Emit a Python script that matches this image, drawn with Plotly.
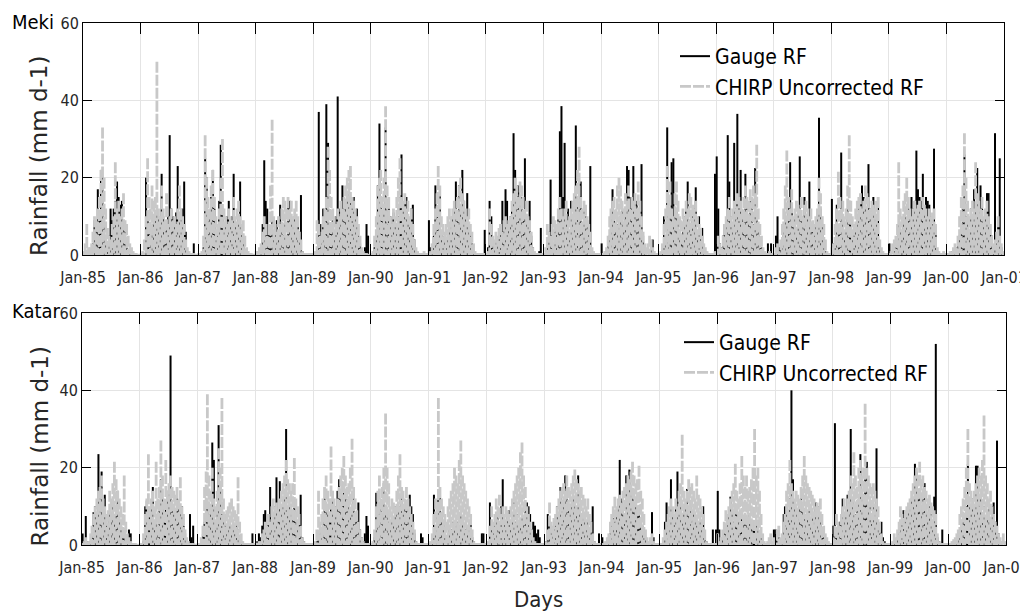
import plotly.graph_objects as go

# Dekadal (10-day) rainfall, mm/day, one row per year 1985-2000
YEARS = list(range(1985, 2001))
DEKAD_DAYS = [5, 15, 25]
TICK_YEARS = list(range(1985, 2002))
TICK_LABELS = ["Jan-%02d" % (y % 100) for y in TICK_YEARS]

meki_gauge = [
    [0,0,1,0,1,0,3,9,6,17,11,22,20,8,3,2,5,12,9,12,14,19,15,13,14,8,6,2,1,1,0,0,0,0,0,0],
    [0,0,0,20,10,8,5,6,8,10,12,10,8,21,10,5,8,10,31,12,10,8,11,23,10,9,12,19,6,1,0,0,0,3,0,0],
    [0,0,0,2,25,20,8,10,15,22,12,6,5,14,28.5,12,6,8,10,14,8,10,21,8,6,10,19,6,4,1,0,0,0,0,0,0],
    [0,0,0,1,8,24.5,14,12,6,5,9,5,6,9,4,13,6,5,8,4,15,14,8,6,10,5,8,6,15.5,1,0,0,0,0,0,0],
    [0,0,1,37,8,3,12,5,39,29,8,6,9,5,10,41,12,8,18,10,12,16,15,14,12,15,10,12,5,3,1,0,2,8,5,0],
    [0,0,2,6,18,34,15,10,12,33,8,12,10,6,11,8,6,10,15,26,12,14,15,10,8,12,13,4,1,0,0,0,0,0,0,0],
    [9,2,1,5,18,10,8,16,6,4,5,3,6,8,5,10,12,19,10,18,12,22,14,10,16,8,5,3,1,0,0,0,0,0,0,6.5],
    [0,2,14,10,3,2,4,3,6,8,14,6,17,14,8,10,12,31.5,22,12,18,12,15,10,25,10,8,14,5,2,0,0,0,1,7,0],
    [0,0,2,6,19.5,4,3,6,8,10,32,38.5,15,29,10,12,6,14,10,8,33.5,14,12,19,8,12,10,9,6,23,1,0,0,0,0,0],
    [3,0,0,1,3,5,8,17,10,6,8,5,10,12,8,10,23,22,15,12,23,10,14,12,10,23.5,5,1,0,0,1,2,4,0,0,0],
    [0,0,1,10,4,33,8,12,24,25,10,12,8,6,5,8,10,12,19,8,6,10,12,17.5,6,10,5,7,2,1,0,0,0,0,0,21],
    [25.5,12,3,2,5,8,8,31,19,10,8,29,12,36.5,15,22,10,8,21,12,10,14,12,8,22.5,10,6,4,2,1,0,0,3,0,3,0],
    [0,5,10,2,3,4,6,10,8,14,24,12,8,10,6,12,25.5,10,8,15,6,10,19,8,6,5,8,10,35.5,12,8,3,1,0,0,0],
    [14.5,3,2,13,8,6,26.5,10,6,8,12,10,8,6,5,8,10,12,14,18,15,12,10,23.5,12,10,15,8,10,15,2,1,0,0,0,0],
    [3,0,0,1,2,4,8,6,5,8,10,8,12,10,15,12,14,27,17,15,14,21,12,15,14,13,10,8,27.5,6,1,0,0,0,0,0],
    [0,0,0,1,0,1,2,3,5,8,12,26,10,8,6,12,10,17,12,22.5,10,18,12,8,10,16,16,8,5,2,31.5,3,8,25,2,0],
]

meki_chirp = [
    [1,3,8,2,2,3,6,10,9,12,15,22,33,20,12,7,5,4,8,10,24,12,14,10,12,16,9,8,5,3,2,1,0.5,0.5,0.3,0.3],
    [0.5,1,4,10,25,15,12,18,14,15,50,12,10,18,12,9,16,8,10,12,9,10,8,12,18,12,10,8,4,2,1,0.5,0.5,0.5,0.3,0.3],
    [0.5,0.5,1,5,31,20,15,12,18,22,15,10,8,12,20,30,12,10,8,12,10,9,15,10,12,14,10,8,9,5,2,1,0.5,0.5,0.3,0.3],
    [1,1,2,3,6,10,8,5,8,18,35,10,8,6,10,8,12,15,14,12,15,12,14,10,12,14,10,6,4,1,0.5,0.5,0.5,0.5,0.5,0.5],
    [0.5,1,9,8,5,6,10,12,15,28,22,15,12,10,8,12,10,14,12,15,18,20,22,23,15,14,12,10,8,5,2,1,0.5,0.5,0.3,0.3],
    [0.5,1,5,10,18,20,22,15,20,38.5,18,15,10,8,12,10,15,20,25,15,14,16,12,14,10,12,8,4,2,1,0.5,0.5,0.5,1,0.5,0.5],
    [0.5,1,3,8,12,16,23,18,10,8,6,8,10,12,10,12,14,12,15,18,20,16,14,12,10,12,8,6,3,1,0.5,0.5,0.5,0.5,0.5,0.5],
    [0.5,1,12,8,5,4,6,5,7,8,6,9,10,8,9,10,14,16,20,18,15,19,18,15,12,14,10,9,6,2,1,0.5,0.5,0.5,0.5,0.5],
    [0.5,2,8,6,5,8,10,9,8,12,15,12,10,12,14,9,10,12,14,16,18,22,28,15,12,14,13,10,8,6,2,1,0.5,0.5,0.5,0.5],
    [0.5,0.5,1,2,5,10,12,14,15,12,18,20,18,14,12,16,14,18,12,15,14,16,12,19,14,10,6,3,2,3,5,4,2,1,0.5,0.5],
    [0.5,1,3,8,12,23,15,19,12,10,16,19,14,10,9,12,10,14,12,16,15,13,12,14,10,8,7,5,3,2,1,0.5,0.5,0.5,0.5,1],
    [1,5,3,2,5,8,10,12,15,10,12,14,12,16,15,14,12,15,18,15,14,17,15,18,16,28.5,12,8,5,2,1,0.5,0.5,1,0.5,0.5],
    [0.5,2,3,1,4,8,12,18,27,15,12,17,10,12,14,13,12,15,10,13,14,12,10,12,9,8,10,12,20,16,10,8,4,1,0.5,0.5],
    [2,3,8,12,21.5,15,12,14,10,12,18,31,14,10,8,12,14,15,16,12,14,18,16,15,12,14,13,12,14,15,4,2,1,0.5,0.5,0.5],
    [0.5,1,3,4,5,8,24,12,10,14,16,20,15,12,10,12,14,12,13,14,12,15,13,12,10,12,10,11,12,8,2,1,0.5,0.5,1,0.5],
    [0.5,0.5,1,1,2,3,2,5,10,15,18,31.5,20,14,10,12,14,12,24,16,14,12,15,10,12,14,10,8,5,3,4,6,10,5,3,1],
]

katar_gauge = [
    [3,1,7.5,1,0,1,3,8.5,10,6,23.5,8,19,6,13,5,3,8,6,10,8,10,14,6,5,3,4,2,1,4,3,0,0,0,0,0],
    [0,0,1,10,11.5,6,8,10,15,6,8,5,10,17,12,8,10,14,12,49,10,8,9,12,10,8,10,5,3,1,0,8,2,5,0,0],
    [0,0,1,3,6,8,10,5,8,26.5,22,6,8,31,15,8,6,5,4,6,5,4,6,3,5,4,2,1,0,0,0,0,0,0,3,0],
    [0,1,3,2,5,8,9,4,6,15,5,8,10,17.5,6,16.5,8,10,12,30,8,10,6,8,10,6,5,8,13,2,1,0,0,0,0,0],
    [0,0,1,3,2,4,8,12,10,8,6,10,12,8,10,14,17,12,10,14,12,10,12,8,10,12,8,6,11,4,2,1,3,7.5,5,0],
    [0,0,2,13.5,6,8,10,6,16,10,8,6,5,8,6,10,8,9,10,12,8,10,11,8,13,10,8,3,1,0,0,3,2,0,0,0],
    [0,0,1,13,5,8,12,13,8,6,3,2,3,5,4,6,5,4,6,5,8,6,5,4,5,3,6,2,1,0,0,0,0,3,3,0],
    [0,0,11,4,3,5,6,8,5,10,17,6,5,8,9,6,8,11,6,8,6,5,8,6,10,11,10,8,4,6,5,3,4,2,0,0],
    [0,1,8,5,3,4,6,5,10,8,15,8,10,18,12,10,8,10,12,10,8,18,10,8,6,8,5,6,4,6,10,1,0,0,3,0],
    [2,0,0,1,2,3,5,7,6,8,10,22,12,10,8,18,10,19.5,12,14,10,12,8,10,6,5,3,2,1,0,1,8.5,2,0,0,0],
    [0,0,1,6,11,4,6,17,8,6,10,19,8,10,6,8,10,14.5,8,10,6,8,6,5,4,6,5,10,2,1,0,0,0,4,0,4],
    [14,4,1,2,3,5,6,8,12.5,10,6,8,10,6,5,8,6,8,6,7,8,6,5,6,5,4,3,2,1,0,0,0,0,0,0,4],
    [4,1,2,1,2,8,10,10,8,12,40,17,10,8,6,10,12,10,8,6,8,10,6,8,5,11,6,10,6,4,2,1,0,0,0,0],
    [5,31.5,3,4,6,8,12,6,8,13,10,30,12,10,8,10,12,23.5,10,12,18,21.5,10,12,8,10,6,25,4,3,6,2,1,0,0,0],
    [0,0,1,0,2,3,5,6,9,6,8,10,8,12,10,21,19,12,14,10,12,16,10,8,10,8,6,12.5,52,2,1,0,4,0,0,0],
    [0,0,0,1,0,1,2,3,4,6,8,10,21,10,8,12,10,20.5,20.5,10,12,8,10,6,8,10,5,10,11,6,27,3,1,0,0,0],
]

katar_chirp = [
    [0.5,1,2,1,1,3,5,8,10,12,14,15,18,12,10,8,9,14,12,16,21.5,17,14,12,10,8,18,6,3,2,1,0.5,0.5,0.5,0.3,0.3],
    [0.5,0.5,3,8,12,23.5,10,12,14,10,21.5,12,15,27,18,12,22,14,16,18,15,14,13,15,12,17.5,10,8,4,2,1,0.5,0.5,0.5,0.3,0.3],
    [0.5,0.5,2,5,15,19,39,18,14,20,12,10,14,25,20,38,12,8,9,10,11,12,10,9,8,17.5,6,3,1,0.5,0.5,0.5,0.5,0.5,0.5,0.5],
    [0.5,0.5,1,1,3,4,6,5,8,6,10,12,10,11,9,12,14,16,18,22,17,16,14,16,22.5,12,10,8,5,2,1,0.5,0.5,0.5,0.5,0.5],
    [0.5,1,4,14,6,8,12,15,18,14,12,25.5,14,12,10,12,15,18,20,23,18,15,16,20,27.5,15,12,9,6,4,2,1,0.5,0.5,0.5,0.5],
    [0.5,1,4,10,14,18,12,15,20,34,20,16,10,12,11,10,14,18,23.5,15,14,12,15,12,10,8,6,4,1,0.5,0.5,0.5,0.5,0.5,0.5,0.5],
    [0.5,1,3,8,12,10,38,15,12,10,8,6,10,12,14,16,20,18,16,22,27,18,16,14,12,10,8,4,1,0.5,0.5,0.5,0.5,0.5,0.5,0.5],
    [0.5,1,5,10,6,8,12,10,13,8,10,8,10,9,8,10,12,14,16,18,20,24,26.5,18,15,10,8,6,4,2,1,0.5,0.5,0.5,0.5,0.5],
    [0.5,1,4,11,6,5,7,8,10,12,14,15,16,14,18,15,14,16,18,19.5,17,16,14,15,13,12,10,12,8,6,3,1,0.5,0.5,0.5,0.5],
    [0.5,0.5,1,2,3,6,8,10,12.5,10,12,13,11,14,15,16,18,17,19,21.5,18,16,17,20.5,14,12,8,4,2,1,2,3,1,0.5,0.5,0.5],
    [0.5,0.5,2,4,6,8,10,12,10,8,12,10,14,16,28.5,14,12,14,17,15,16,14,12,18,13,12,10,8,4,1,0.5,0.5,0.5,0.5,0.5,0.5],
    [3,1,2,4,6,9,8,10,12,14,16,21,14,12,16,23,18,15,18,14,15,17,20,30,18,20,14,8,3,1,0.5,1,2,3,1,2],
    [0.5,4,5,2,3,6,8,14,16,22,16,14,12,14,13,12,15,18,23,18,16,15,14,13,12,10,11,10,12,8,5,3,2,1,0.5,0.5],
    [2,5,8,6,5,8,10,12,10,12,14,18,16,24,18,15,20,22,18,20,36.5,20,18,16,15,16,14,12,10,6,3,1,0.5,0.5,0.5,0.5],
    [0.5,1,3,2,4,6,10,8,7,9,10,11,12,14,16,18,20,18,21.5,17,18,15,14,12,13,11,10,9,8,3,1,0.5,0.5,0.5,0.5,0.5],
    [0.5,0.5,1,1.5,2,3,4,8,10,12,15,20,30,16,14,12,14,16,18,20,18,22,33.5,18,16,12,14,10,8,6,5,3,2,1,3,1],
]

dates = ["%d-%02d-%02d" % (y, m, d) for y in YEARS for m in range(1, 13) for d in DEKAD_DAYS]


def stems(rows, from_top=False):
    # one vertical stroke per dekad, like the dense daily spikes of the original
    xs, ys = [], []
    vals = [v for row in rows for v in row]
    for x, v in zip(dates, vals):
        xs += [x, x, None]
        ys += ([v, 0, None] if from_top else [0, v, None])
    return xs, ys


NARROW = "Liberation Sans Narrow, Arial Narrow, DejaVu Sans Condensed, sans-serif"
GRAY = "#c8c8c8"

fig = go.Figure()
panels = [("x", "y", "legend", meki_gauge, meki_chirp),
          ("x2", "y2", "legend2", katar_gauge, katar_chirp)]
for xa, ya, lg, gauge, chirp in panels:
    gx, gy = stems(gauge)
    fig.add_trace(go.Scatter(x=gx, y=gy, xaxis=xa, yaxis=ya, mode="lines", name="Gauge RF",
                             legend=lg, line=dict(color="black", width=2)))
    cx, cy = stems(chirp, from_top=True)
    fig.add_trace(go.Scatter(x=cx, y=cy, xaxis=xa, yaxis=ya, mode="lines", name="CHIRP Uncorrected RF",
                             legend=lg, line=dict(color=GRAY, width=2.8, dash="11px,2px")))

W, H = 1020, 616
xcommon = dict(range=["1985-01-01", "2001-01-01"], tickvals=["%d-01-01" % y for y in TICK_YEARS],
               ticktext=TICK_LABELS, ticks="inside", ticklen=11, tickcolor="black",
               showline=True, linecolor="black", linewidth=1, mirror="ticks",
               showgrid=True, gridcolor="#e4e4e4", zeroline=False, ticklabeloverflow="allow",
               tickfont=dict(family=NARROW, size=16, color="#262626"), ticklabelstandoff=8)
ycommon = dict(range=[0, 60], tickvals=[0, 20, 40, 60], ticks="inside", ticklen=9, tickcolor="black",
               showline=True, linecolor="black", linewidth=1, mirror="ticks",
               showgrid=True, gridcolor="#e4e4e4", zeroline=False,
               tickfont=dict(family=NARROW, size=16, color="#262626"))

fig.update_layout(
    width=W, height=H, margin=dict(l=0, r=0, t=0, b=0, autoexpand=False),
    paper_bgcolor="white", plot_bgcolor="white",
    xaxis=dict(domain=[83 / W, 1004 / W], anchor="y", **xcommon),
    yaxis=dict(domain=[1 - 255 / H, 1 - 23 / H], anchor="x", **ycommon),
    xaxis2=dict(domain=[82 / W, 1006 / W], anchor="y2", **xcommon),
    yaxis2=dict(domain=[1 - 545 / H, 1 - 313 / H], anchor="x2", **ycommon),
    legend=dict(x=675 / W, y=1 - 36 / H, xanchor="left", yanchor="top", bgcolor="rgba(0,0,0,0)",
                font=dict(family=NARROW, size=21, color="black"), itemwidth=30),
    legend2=dict(x=679 / W, y=1 - 322 / H, xanchor="left", yanchor="top", bgcolor="rgba(0,0,0,0)",
                 font=dict(family=NARROW, size=21, color="black"), itemwidth=30),
    showlegend=True,
)

for name, yc in [("Meki", 22.5), ("Katar", 311)]:
    fig.add_annotation(text=name, x=10 / W, y=1 - yc / H, xref="paper", yref="paper",
                       xanchor="left", yanchor="middle", showarrow=False,
                       font=dict(family=NARROW, size=20, color="black"))
for yc in [156.5, 447]:
    fig.add_annotation(text="Rainfall (mm d-1)", x=39.5 / W, y=1 - yc / H, xref="paper", yref="paper",
                       xanchor="center", yanchor="middle", textangle=-90, showarrow=False,
                       font=dict(family="DejaVu Sans", size=23, color="#262626"))
fig.add_annotation(text="Days", x=538 / W, y=1 - 599 / H, xref="paper", yref="paper",
                   xanchor="center", yanchor="middle", showarrow=False,
                   font=dict(family=NARROW, size=22, color="#262626"))

# the page body has a default 8px margin; drop it so the figure sits at the window origin
fig.write_html("out.html", config={"displayModeBar": False},
               post_script="document.body.style.margin='0';")
